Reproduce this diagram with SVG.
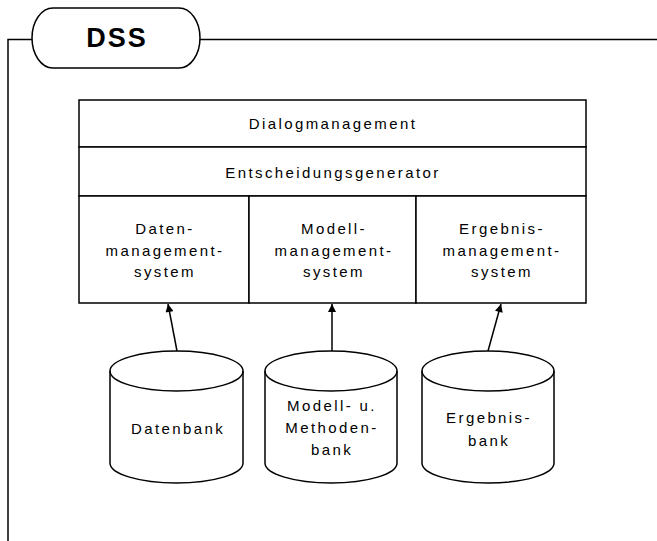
<svg xmlns="http://www.w3.org/2000/svg" width="657" height="541" viewBox="0 0 657 541">
<style>
.ln{fill:none;stroke:#000;stroke-width:1.5}
.bx{fill:#fff;stroke:#000;stroke-width:1.5}
.t{font-family:"Liberation Sans",Arial,sans-serif;font-size:15px;letter-spacing:2.4px;fill:#000;text-anchor:middle}
.h{font-family:"Liberation Sans",Arial,sans-serif;font-size:27px;font-weight:bold;letter-spacing:2px;fill:#000;text-anchor:middle}
</style>
<defs>
<marker id="ah" viewBox="0 0 10 10" refX="10" refY="5" markerWidth="10" markerHeight="8" markerUnits="userSpaceOnUse" orient="auto">
<path d="M0,0 L10,5 L0,10 z" fill="#000"/>
</marker>
</defs>
<rect width="657" height="541" fill="#fff"/>
<g id="frame">
<path class="ln" d="M8,541 V39.5 H32 M200,39.5 H657"/>
<rect class="bx" x="32" y="8" width="168" height="60" rx="21" ry="30"/>
<text class="h" x="117" y="47">DSS</text>
</g>
<g id="dialogmanagement">
<rect class="bx" x="79" y="100" width="507" height="47"/>
<text class="t" x="333" y="129">Dialogmanagement</text>
</g>
<g id="entscheidungsgenerator">
<rect class="bx" x="79" y="147" width="507" height="49"/>
<text class="t" x="333" y="178">Entscheidungsgenerator</text>
</g>
<g id="datenmanagement">
<rect class="bx" x="79" y="196" width="170" height="107"/>
<text class="t" x="165" y="234">Daten-</text>
<text class="t" x="165" y="256">management-</text>
<text class="t" x="165" y="277">system</text>
</g>
<g id="modellmanagement">
<rect class="bx" x="249" y="196" width="167" height="107"/>
<text class="t" x="334" y="234">Modell-</text>
<text class="t" x="334" y="256">management-</text>
<text class="t" x="334" y="277">system</text>
</g>
<g id="ergebnismanagement">
<rect class="bx" x="416" y="196" width="170" height="107"/>
<text class="t" x="502" y="234">Ergebnis-</text>
<text class="t" x="502" y="256">management-</text>
<text class="t" x="502" y="277">system</text>
</g>
<g id="datenbank">
<path class="bx" d="M110,371 V463 A66.5,20 0 0 0 243,463 V371 A66.5,20 0 0 0 110,371 Z"/>
<path class="ln" d="M110,371 A66.5,20 0 0 0 243,371"/>
<text class="t" x="178" y="434">Datenbank</text>
</g>
<g id="methodenbank">
<path class="bx" d="M265,371 V463 A66,20 0 0 0 397,463 V371 A66,20 0 0 0 265,371 Z"/>
<path class="ln" d="M265,371 A66,20 0 0 0 397,371"/>
<text class="t" x="332" y="411">Modell- u.</text>
<text class="t" x="332" y="433">Methoden-</text>
<text class="t" x="332" y="455">bank</text>
</g>
<g id="ergebnisbank">
<path class="bx" d="M422,371 V463 A66,20 0 0 0 554,463 V371 A66,20 0 0 0 422,371 Z"/>
<path class="ln" d="M422,371 A66,20 0 0 0 554,371"/>
<text class="t" x="489" y="423">Ergebnis-</text>
<text class="t" x="489" y="446">bank</text>
</g>
<g id="connectors">
<line class="ln" x1="177" y1="351" x2="168" y2="304" marker-end="url(#ah)"/>
<line class="ln" x1="332" y1="351" x2="332" y2="304" marker-end="url(#ah)"/>
<line class="ln" x1="488" y1="351" x2="501" y2="304" marker-end="url(#ah)"/>
</g>
</svg>
